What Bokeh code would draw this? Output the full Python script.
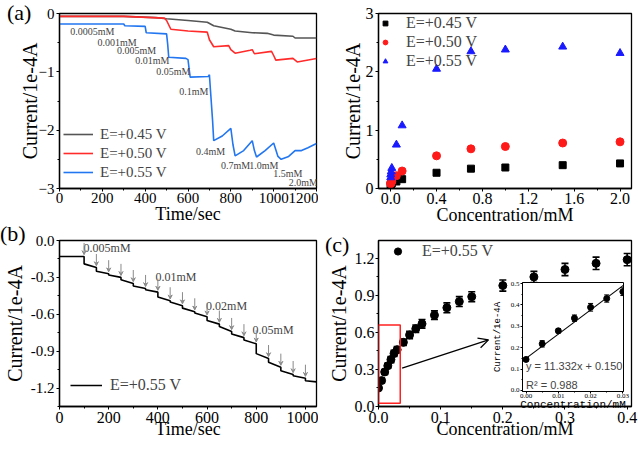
from bokeh.plotting import figure
from bokeh.models import (GridBox, Range1d, ColumnDataSource, Whisker, TeeHead, Arrow, Div,
                          VeeHead, OpenHead, BoxAnnotation, Slope, Label,
                          SingleIntervalTicker, NumeralTickFormatter)
from bokeh.core.properties import value
from bokeh.embed import file_html
from bokeh.resources import INLINE

SERIF = "Liberation Serif"
MONO = "Liberation Mono"
SANS = "Liberation Sans"
GRAY = "#555555"
RED = "#ff2b2b"
BLUE = "#2276f0"
SRED = "#ff1a1a"
SBLUE = "#1a1aff"

# ---------------- (a) left: i-t curves at three potentials ----------------
t_045 = [0, 300, 450, 500, 600, 690, 720, 800, 820, 900, 970, 1000, 1090, 1100, 1200]
I_045 = [-0.05, -0.05, -0.07, -0.09, -0.12, -0.15, -0.21, -0.27, -0.30, -0.33, -0.34, -0.37, -0.39, -0.42, -0.42]

t_050 = [0, 300, 490, 500, 520, 600, 690, 700, 720, 790, 800, 820, 890, 900, 910, 990, 1000, 1010, 1090, 1100, 1110, 1200]
I_050 = [-0.05, -0.05, -0.08, -0.12, -0.27, -0.30, -0.32, -0.45, -0.57, -0.55, -0.62, -0.68, -0.63, -0.62, -0.69,
         -0.65, -0.72, -0.80, -0.77, -0.80, -0.83, -0.77]

t_055 = [0, 300, 305, 400, 405, 500, 505, 510, 590, 600, 610, 695, 700, 705, 715, 720, 760, 800, 810, 820, 860,
         900, 910, 920, 960, 1000, 1020, 1035, 1070, 1100, 1130, 1160, 1200]
I_055 = [-0.18, -0.18, -0.21, -0.22, -0.33, -0.35, -0.52, -0.75, -0.77, -0.79, -1.09, -1.08, -1.05, -1.32, -1.85,
         -2.18, -2.10, -1.97, -2.25, -2.44, -2.35, -2.18, -2.35, -2.46, -2.35, -2.22, -2.45, -2.50, -2.45, -2.35,
         -2.35, -2.30, -2.23]

add_labels = ["0.0005mM", "0.001mM", "0.005mM", "0.01mM", "0.05mM", "0.1mM", "0.4mM", "0.7mM", "1.0mM", "1.5mM", "2.0mM"]
add_label_t = [153, 269, 360, 433, 531, 627, 705, 822, 954, 1066, 1138]
add_label_I = [-0.30, -0.49, -0.63, -0.80, -1.00, -1.33, -2.36, -2.60, -2.60, -2.74, -2.90]

# ---------------- (a) right: current vs concentration ----------------
conc_a = [0.0005, 0.001, 0.005, 0.01, 0.05, 0.1, 0.4, 0.7, 1.0, 1.5, 2.0]
cur_045 = [0.06, 0.07, 0.08, 0.09, 0.12, 0.16, 0.27, 0.34, 0.36, 0.40, 0.43]
cur_050 = [0.08, 0.09, 0.11, 0.12, 0.22, 0.30, 0.56, 0.68, 0.72, 0.78, 0.80]
cur_055 = [0.19, 0.24, 0.29, 0.35, 0.75, 1.08, 2.05, 2.35, 2.38, 2.43, 2.32]

# ---------------- (b) low concentration i-t curve ----------------
b_t = [0, 100, 150, 200, 250, 300, 350, 400, 450, 500, 550, 600, 650, 700, 750, 800, 850, 900, 950, 1000, 1045]
b_start = [-0.13, -0.19, -0.25, -0.28, -0.32, -0.37, -0.40, -0.46, -0.50, -0.55, -0.59, -0.65, -0.70, -0.76,
           -0.81, -0.92, -0.99, -1.06, -1.10, -1.14]
b_end = [-0.13, -0.22, -0.27, -0.30, -0.35, -0.39, -0.42, -0.49, -0.53, -0.58, -0.62, -0.68, -0.74, -0.79,
         -0.84, -0.96, -1.03, -1.09, -1.12, -1.15]
b_labels = ["0.005mM", "0.01mM", "0.02mM", "0.05mM"]
b_label_t = [98, 390, 596, 785]
b_label_I = [-0.062, -0.30, -0.53, -0.73]

# ---------------- (c) calibration ----------------
conc_c = [0.0, 0.005, 0.01, 0.015, 0.02, 0.025, 0.03, 0.04, 0.05, 0.06, 0.07, 0.09, 0.11, 0.13, 0.15,
          0.2, 0.25, 0.3, 0.35, 0.4]
cur_c = [0.15, 0.21, 0.28, 0.33, 0.38, 0.43, 0.46, 0.52, 0.58, 0.63, 0.67, 0.74, 0.80, 0.85, 0.89,
         0.98, 1.05, 1.11, 1.16, 1.19]
err_c = [0.01, 0.02, 0.02, 0.02, 0.025, 0.025, 0.025, 0.025, 0.03, 0.03, 0.035, 0.035, 0.04, 0.04, 0.04,
         0.045, 0.045, 0.05, 0.05, 0.05]
conc_in = [0.0, 0.005, 0.01, 0.015, 0.02, 0.025, 0.03]
cur_in = [0.145, 0.218, 0.279, 0.338, 0.389, 0.430, 0.462]
err_in = [0.008, 0.015, 0.010, 0.015, 0.018, 0.017, 0.018]
fit_slope = 11.332
fit_intercept = 0.150
fit_r2 = 0.988
zoom_box = dict(left=0.0, right=0.035, bottom=0.026, top=0.66)
zoom_arrow = dict(x_start=0.038, y_start=0.31, x_end=0.177, y_end=0.54)


def base_fig(**kw):
    p = figure(output_backend="svg", toolbar_location=None, **kw)
    p.xgrid.visible = False
    p.ygrid.visible = False
    p.outline_line_color = "black"
    p.outline_line_width = 1.3
    p.outline_line_alpha = 1
    p.background_fill_color = "white"
    return p


def style_axes(p, tick_size="15px", xlab_size="18px", ylab_size="20px",
               xstand=0, ystand=0, xtick_stand=2, ytick_stand=2, tick_font=SERIF, lab_font=SERIF):
    for ax in p.axis:
        ax.axis_line_width = 1.3
        ax.axis_line_color = "black"
        ax.major_tick_out = 3
        ax.major_tick_in = 0
        ax.minor_tick_out = 2
        ax.minor_tick_in = 0
        ax.major_tick_line_color = "black"
        ax.minor_tick_line_color = "black"
        ax.major_label_text_font = tick_font
        ax.major_label_text_font_size = tick_size
        ax.major_label_text_color = "black"
        ax.axis_label_text_font = lab_font
        ax.axis_label_text_font_style = "normal"
        ax.axis_label_text_color = "black"
    p.xaxis.major_label_standoff = xtick_stand
    p.yaxis.major_label_standoff = ytick_stand
    p.xaxis.axis_label_text_font_size = xlab_size
    p.yaxis.axis_label_text_font_size = ylab_size
    p.xaxis.axis_label_standoff = xstand
    p.yaxis.axis_label_standoff = ystand


def style_legend(leg, font_size, glyph_w, standoff, location, padding=0):
    leg.location = location
    leg.padding = padding
    leg.margin = 0
    leg.border_line_alpha = 0
    leg.background_fill_alpha = 0
    leg.glyph_width = glyph_w
    leg.glyph_height = 18
    leg.label_height = 18
    leg.spacing = 1
    leg.label_standoff = standoff
    leg.label_text_font = SERIF
    leg.label_text_font_size = font_size


def panel_tag(text, margin):
    return Div(text=text, width=34, height=26, margin=margin,
               styles={"font-family": SERIF, "font-size": "22px", "color": "black",
                       "line-height": "26px", "background": "transparent"})


# ---------- panel (a) left ----------
pa1 = base_fig(width=318, height=234, x_range=Range1d(0, 1200), y_range=Range1d(-3, 0),
               min_border_left=59, min_border_right=2, min_border_top=13, min_border_bottom=46)
pa1.line(t_045, I_045, line_color=GRAY, line_width=1.6, legend_label="E=+0.45 V")
pa1.line(t_050, I_050, line_color=RED, line_width=1.6, legend_label="E=+0.50 V")
pa1.line(t_055, I_055, line_color=BLUE, line_width=1.6, legend_label="E=+0.55 V")
pa1.text(x=add_label_t, y=add_label_I, text=add_labels, text_font=value(SERIF), text_font_size="10px",
         text_color="#444444", text_align="center", text_baseline="middle")
pa1.xaxis.ticker = SingleIntervalTicker(interval=200, num_minor_ticks=2)
pa1.yaxis.ticker = SingleIntervalTicker(interval=1, num_minor_ticks=2)
pa1.xaxis.axis_label = "Time/sec"
pa1.yaxis.axis_label = "Current/1e-4A"
style_axes(pa1, tick_size="15px", xstand=-2, ystand=-5, xtick_stand=1)
style_legend(pa1.legend[0], "15px", 30, 7, (4, 7))

# ---------- panel (a) right ----------
pa2 = base_fig(width=320, height=234, x_range=Range1d(-0.106, 2.10), y_range=Range1d(0, 3),
               min_border_left=56, min_border_right=7, min_border_top=13, min_border_bottom=46)
pa2.scatter(conc_a, cur_045, marker="square", size=7, color="black", legend_label="E=+0.45 V")
pa2.scatter(conc_a, cur_050, marker="circle", size=8, color=SRED, legend_label="E=+0.50 V")
pa2.scatter(conc_a, cur_055, marker="triangle", size=8, color=SBLUE, legend_label="E=+0.55 V")
pa2.xaxis.ticker = SingleIntervalTicker(interval=0.4, num_minor_ticks=2)
pa2.xaxis.formatter = NumeralTickFormatter(format="0.0")
pa2.yaxis.ticker = SingleIntervalTicker(interval=1, num_minor_ticks=2)
pa2.xaxis.axis_label = "Concentration/mM"
pa2.yaxis.axis_label = "Current/1e-4A"
style_axes(pa2, tick_size="16px", xstand=-2, ystand=-1, xtick_stand=1)
style_legend(pa2.legend[0], "16px", 12, 15, "top_left", padding=1)

# ---------- panel (b) ----------
pb = base_fig(width=318, height=220, x_range=Range1d(0, 1045), y_range=Range1d(-1.35, 0.0),
              min_border_left=59, min_border_right=2, min_border_top=4, min_border_bottom=43)
bx, by = [], []
for k in range(len(b_start)):
    bx += [b_t[k], b_t[k + 1]]
    by += [b_start[k], b_end[k]]
pb.line(bx, by, line_color="black", line_width=1.6, legend_label="E=+0.55 V")
arrow_t = b_t[1:-1]
arrow_base = b_end[:-1]
arr_src = ColumnDataSource(dict(x0=arrow_t, x1=arrow_t,
                                y0=[v + 0.11 for v in arrow_base],
                                y1=[v + 0.015 for v in arrow_base]))
pb.add_layout(Arrow(end=VeeHead(size=4, line_color="#8a8a8a", fill_color="#8a8a8a", line_width=1),
                    x_start="x0", y_start="y0", x_end="x1", y_end="y1", source=arr_src,
                    line_color="#8a8a8a", line_width=1))
pb.text(x=b_label_t, y=b_label_I, text=b_labels, text_font=value(SERIF), text_font_size="12px",
        text_color="#444444", text_align="left", text_baseline="middle")
pb.xaxis.ticker = SingleIntervalTicker(interval=200, num_minor_ticks=2)
pb.yaxis.ticker = SingleIntervalTicker(interval=0.3, num_minor_ticks=2)
pb.yaxis.formatter = NumeralTickFormatter(format="0.0")
pb.xaxis.axis_label = "Time/sec"
pb.yaxis.axis_label = "Current/1e-4A"
style_axes(pb, tick_size="15px", xstand=-7, ystand=2, xtick_stand=2)
pb.xaxis.major_label_text_font_size = "16px"
style_legend(pb.legend[0], "16px", 32, 8, (11, 12))

# ---------- panel (c) ----------
pc = base_fig(width=320, height=220, x_range=Range1d(0, 0.407), y_range=Range1d(0, 1.345),
              min_border_left=57, min_border_right=7, min_border_top=4, min_border_bottom=43)
src_c = ColumnDataSource(dict(x=conc_c, y=cur_c,
                              lo=[v - e for v, e in zip(cur_c, err_c)],
                              hi=[v + e for v, e in zip(cur_c, err_c)]))
pc.add_layout(Whisker(base="x", upper="hi", lower="lo", source=src_c, dimension="height",
                      line_width=1.6, line_color="black",
                      upper_head=TeeHead(size=7, line_width=1.6), lower_head=TeeHead(size=7, line_width=1.6)))
pc.scatter("x", "y", source=src_c, marker="circle", size=8, color="black", legend_label="E=+0.55 V")
pc.add_layout(BoxAnnotation(fill_alpha=0, line_color="#ff2020", line_width=1.5, line_alpha=1, **zoom_box))
pc.add_layout(Arrow(end=OpenHead(size=10, line_width=1.3, line_color="black"), line_width=1.3,
                    line_color="black", **zoom_arrow))
pc.xaxis.ticker = SingleIntervalTicker(interval=0.1, num_minor_ticks=2)
pc.xaxis.formatter = NumeralTickFormatter(format="0.0")
pc.yaxis.ticker = SingleIntervalTicker(interval=0.3, num_minor_ticks=2)
pc.yaxis.formatter = NumeralTickFormatter(format="0.0")
pc.xaxis.axis_label = "Concentration/mM"
pc.yaxis.axis_label = "Current/1e-4A"
style_axes(pc, tick_size="16px", xstand=-7, ystand=2, xtick_stand=2, ytick_stand=1)
style_legend(pc.legend[0], "16px", 35, 7, "top_left", padding=2)

# ---------- inset of (c) ----------
pin = base_fig(width=168, height=163, x_range=Range1d(-0.0011, 0.0302), y_range=Range1d(-0.005, 0.505),
               min_border_left=60, min_border_right=6, min_border_top=6, min_border_bottom=48,
               margin=(42, 0, 0, 144))
pin.border_fill_alpha = 0
pin.outline_line_width = 1
src_in = ColumnDataSource(dict(x=conc_in, y=cur_in,
                               lo=[v - e for v, e in zip(cur_in, err_in)],
                               hi=[v + e for v, e in zip(cur_in, err_in)]))
pin.add_layout(Slope(gradient=fit_slope, y_intercept=fit_intercept, line_color="black", line_width=1.1))
pin.add_layout(Whisker(base="x", upper="hi", lower="lo", source=src_in, dimension="height",
                       line_width=1, line_color="black",
                       upper_head=TeeHead(size=5, line_width=1), lower_head=TeeHead(size=5, line_width=1)))
pin.scatter("x", "y", source=src_in, marker="circle", size=6, color="black")
pin.add_layout(Label(x=0.0, y=0.112, text=f"y = {fit_slope:.3f}x + {fit_intercept:.3f}",
                     text_font=SANS, text_font_size="11px", text_baseline="middle", text_align="left"))
pin.add_layout(Label(x=0.0, y=0.026, text=f"R\u00b2 = {fit_r2:.3f}",
                     text_font=SANS, text_font_size="11px", text_baseline="middle", text_align="left"))
pin.xaxis.ticker = SingleIntervalTicker(interval=0.01, num_minor_ticks=2)
pin.xaxis.formatter = NumeralTickFormatter(format="0.00")
pin.yaxis.ticker = SingleIntervalTicker(interval=0.1, num_minor_ticks=2)
pin.yaxis.formatter = NumeralTickFormatter(format="0.0")
pin.xaxis.axis_label = "Concentration/mM"
pin.yaxis.axis_label = "Current/1e-4A"
style_axes(pin, tick_size="7px", xlab_size="11px", ylab_size="9px", xstand=-2, ystand=5,
           xtick_stand=0, ytick_stand=1, tick_font=SERIF, lab_font=MONO)
for ax in pin.axis:
    ax.major_tick_out = 2
    ax.minor_tick_out = 1
    ax.axis_line_width = 1

tag_a = panel_tag("(a)", (0, 0, 0, 7))
tag_b = panel_tag("(b)", (-13, 0, 0, 0))
tag_c = panel_tag("(c)", (-2, 0, 0, 7))

grid = GridBox(children=[(pa1, 0, 0), (pa2, 0, 1), (pb, 1, 0), (pc, 1, 1), (pin, 1, 1),
                         (tag_a, 0, 0), (tag_b, 1, 0), (tag_c, 1, 1)], spacing=0)

open("out.html", "w").write(file_html(grid, INLINE))
